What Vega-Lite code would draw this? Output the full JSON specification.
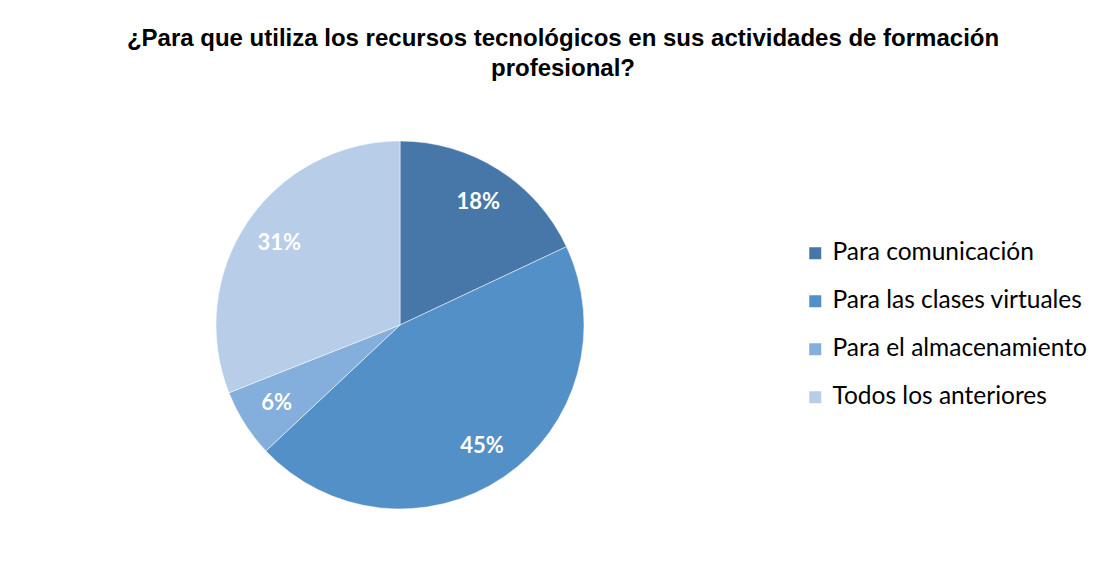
{
  "$schema": "https://vega.github.io/schema/vega-lite/v6.json",
  "autosize": "none",
  "width": 800,
  "height": 470,
  "padding": {"left": 0, "top": 90, "right": 319, "bottom": 7},
  "background": "white",
  "config": {"view": {"stroke": null}},
  "title": {
    "text": ["¿Para que utiliza los recursos tecnológicos en sus actividades de formación", "profesional?"],
    "font": "Liberation Sans",
    "fontSize": 24,
    "fontWeight": "bold",
    "color": "#000000",
    "anchor": "middle",
    "dx": 163,
    "lineHeight": 30,
    "offset": 9
  },
  "data": {
    "values": [
      {"categoria": "Para comunicación", "porcentaje": 18, "orden": 1, "etiqueta": "18%"},
      {"categoria": "Para las clases virtuales", "porcentaje": 45, "orden": 2, "etiqueta": "45%"},
      {"categoria": "Para el almacenamiento", "porcentaje": 6, "orden": 3, "etiqueta": "6%"},
      {"categoria": "Todos los anteriores", "porcentaje": 31, "orden": 4, "etiqueta": "31%"}
    ]
  },
  "encoding": {
    "theta": {"field": "porcentaje", "type": "quantitative", "stack": true},
    "order": {"field": "orden", "type": "quantitative"},
    "color": {
      "field": "categoria",
      "type": "nominal",
      "sort": ["Para comunicación", "Para las clases virtuales", "Para el almacenamiento", "Todos los anteriores"],
      "scale": {
        "domain": ["Para comunicación", "Para las clases virtuales", "Para el almacenamiento", "Todos los anteriores"],
        "range": ["#4677a8", "#5390c8", "#84aedb", "#b8cde7"]
      },
      "legend": {
        "title": null,
        "orient": "none",
        "legendX": 803,
        "legendY": 151,
        "symbolType": "square",
        "symbolSize": 144,
        "symbolStrokeWidth": 0,
        "labelFont": "Lato",
        "labelFontSize": 24.5,
        "labelColor": "#000000",
        "labelOffset": 5,
        "rowPadding": 23,
        "labelLimit": 400
      }
    }
  },
  "layer": [
    {
      "mark": {"type": "arc", "outerRadius": 184, "stroke": "white", "strokeWidth": 0.5}
    },
    {
      "mark": {"type": "text", "radius": 146, "font": "Lato", "fontSize": 22, "fontWeight": "bold", "fill": "white"},
      "encoding": {
        "text": {"field": "etiqueta", "type": "nominal"},
        "color": {"value": "white"}
      }
    }
  ]
}
